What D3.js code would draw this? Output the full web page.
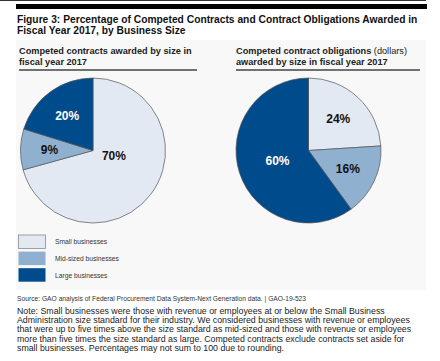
<!DOCTYPE html>
<html>
<head>
<meta charset="utf-8">
<script src="https://cdn.jsdelivr.net/npm/d3@7"></script>
<style>
  body { margin: 0; background: #ffffff; }
  svg { display: block; font-family: "Liberation Sans", Arial, sans-serif; }
</style>
</head>
<body>
<svg id="chart" width="440" height="361"></svg>
<script>
"use strict";

// business size categories, clockwise from 12 o'clock in both pies
var categories = ["Small businesses", "Mid-sized businesses", "Large businesses"];
// share of competed contracts (count), percent
var contractShares = [70, 9, 20];
// share of competed contract obligations (dollars), percent
var obligationShares = [24, 16, 60];

var titleLines = [
  "Figure 3: Percentage of Competed Contracts and Contract Obligations Awarded in",
  "Fiscal Year 2017, by Business Size"
];
var sourceText = "Source: GAO analysis of Federal Procurement Data System-Next Generation data.  |  GAO-19-523";
var noteLines = [
  "Note: Small businesses were those with revenue or employees at or below the Small Business",
  "Administration size standard for their industry. We considered businesses with revenue or employees",
  "that were up to five times above the size standard as mid-sized and those with revenue or employees",
  "more than five times the size standard as large. Competed contracts exclude contracts set aside for",
  "small businesses. Percentages may not sum to 100 due to rounding."
];

var svg = d3.select("#chart");
var color = d3.scaleOrdinal()
  .domain(categories)
  .range(["#e2e9f3", "#8fb0cf", "#004b8c"]);
var labelColor = d3.scaleOrdinal()
  .domain(categories)
  .range(["#111111", "#111111", "#ffffff"]);

// faint panel behind the figure and frame lines
svg.append("rect").attr("x", 16).attr("y", 40).attr("width", 410).attr("height", 250)
  .attr("fill", "#f8f8f8");
svg.append("line").attr("x1", 0).attr("x2", 426).attr("y1", 0.5).attr("y2", 0.5)
  .attr("stroke", "#333").attr("stroke-width", 1);
svg.append("rect").attr("x", 16).attr("y", 4).attr("width", 411).attr("height", 5)
  .attr("fill", "#000");

svg.selectAll("text.title").data(titleLines)
  .enter().append("text")
  .attr("class", "title")
  .attr("x", 17)
  .attr("y", (d, i) => 23 + i * 10.5)
  .attr("font-size", 10.25)
  .attr("font-weight", "bold")
  .attr("fill", "#111")
  .text(d => d);

var charts = [
  { values: contractShares, cx: 93, left: 19, right: 197,
    heading: [[["Competed contracts awarded by size in", "bold"]], [["fiscal year 2017", "bold"]]],
    nudge: { "Small businesses": [-5, -15] } },
  { values: obligationShares, cx: 308.5, left: 236, right: 420,
    heading: [[["Competed contract obligations ", "bold"], ["(dollars)", "normal"]],
              [["awarded by size in fiscal year 2017", "bold"]]],
    nudge: {} }
];

var radius = 72.5, cy = 150.5;
var pie = d3.pie().sort(null).value(d => d.value);
var arc = d3.arc().innerRadius(0).outerRadius(radius);

charts.forEach(function(c) {
  // panel heading with rule underneath
  c.heading.forEach(function(line, i) {
    var t = svg.append("text")
      .attr("x", c.left)
      .attr("y", 53.5 + i * 11.8)
      .attr("font-size", 9.2)
      .attr("fill", "#222");
    line.forEach(function(part) {
      t.append("tspan").attr("font-weight", part[1]).text(part[0]);
    });
  });
  svg.append("line")
    .attr("x1", c.left).attr("x2", c.right)
    .attr("y1", 70).attr("y2", 70)
    .attr("stroke", "#444").attr("stroke-width", 1.4);

  var rows = categories.map((k, i) => ({ key: k, value: c.values[i] }));
  var total = d3.sum(c.values);
  var g = svg.append("g").attr("transform", "translate(" + c.cx + "," + cy + ")");

  g.selectAll("path").data(pie(rows))
    .enter().append("path")
    .attr("d", arc)
    .attr("fill", d => color(d.data.key))
    .attr("stroke", "#555")
    .attr("stroke-width", 0.7);

  g.selectAll("text").data(pie(rows))
    .enter().append("text")
    .attr("transform", function(d) {
      var big = d.data.value / total > 0.5;
      var r = big ? radius * 0.45 : radius * 0.6;
      var p = d3.arc().innerRadius(r).outerRadius(r).centroid(d);
      var n = c.nudge[d.data.key] || [0, 0];
      return "translate(" + (p[0] + n[0]) + "," + (p[1] + n[1]) + ")";
    })
    .attr("text-anchor", "middle")
    .attr("dy", "0.36em")
    .attr("font-size", 12)
    .attr("font-weight", "bold")
    .attr("fill", d => labelColor(d.data.key))
    .text(d => d.data.value + "%");
});

// legend
var legend = svg.append("g").attr("transform", "translate(18.5,235)");
var item = legend.selectAll("g").data(categories)
  .enter().append("g")
  .attr("transform", (d, i) => "translate(0," + i * 16.6 + ")");
item.append("rect")
  .attr("width", 27).attr("height", 13.5)
  .attr("fill", d => color(d))
  .attr("stroke", (d, i) => i === 0 ? "#8a8a8a" : "none")
  .attr("stroke-width", 0.8);
item.append("text")
  .attr("x", 36.5).attr("y", 7)
  .attr("dy", "0.35em")
  .attr("font-size", 6.7)
  .attr("fill", "#333")
  .text(d => d);

svg.append("text")
  .attr("x", 17).attr("y", 301)
  .attr("font-size", 6.7)
  .attr("fill", "#333")
  .text(sourceText);

svg.selectAll("text.note").data(noteLines)
  .enter().append("text")
  .attr("class", "note")
  .attr("x", 17)
  .attr("y", (d, i) => 313.5 + i * 9.4)
  .attr("font-size", 8.8)
  .attr("fill", "#222")
  .text(d => d);
</script>
</body>
</html>
